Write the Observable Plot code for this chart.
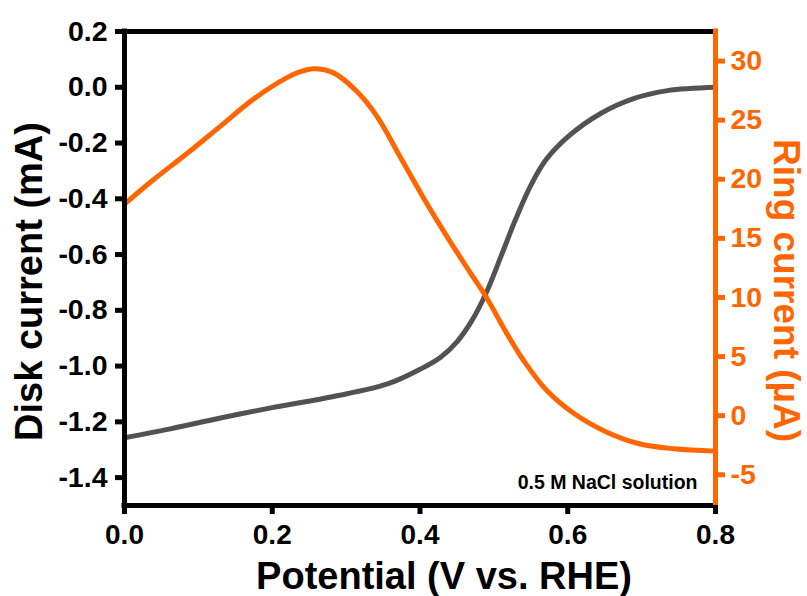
<!DOCTYPE html>
<html>
<head>
<meta charset="utf-8">
<script src="https://cdn.jsdelivr.net/npm/d3@7"></script>
<script src="https://cdn.jsdelivr.net/npm/@observablehq/plot@0.6"></script>
<style>
  body { margin: 0; background: #fff; }
  #chart svg { display: block; }
</style>
</head>
<body>
<div id="chart"></div>
<script>
// RRDE sweep in 0.5 M NaCl: disk current (mA) and ring current (µA) vs. potential (V vs. RHE)
const diskPotential = [0, 0.062, 0.13, 0.198, 0.283, 0.356, 0.401, 0.428, 0.45, 0.47, 0.49, 0.51, 0.53, 0.55, 0.57, 0.60, 0.644, 0.689, 0.735, 0.8];
const diskCurrent   = [-1.257, -1.225, -1.186, -1.150, -1.109, -1.064, -1.010, -0.968, -0.913, -0.838, -0.735, -0.604, -0.470, -0.352, -0.262, -0.178, -0.095, -0.041, -0.012, 0.0];

const ringPotential = [0, 0.04, 0.085, 0.13, 0.175, 0.22, 0.238, 0.256, 0.283, 0.315, 0.342, 0.374, 0.405, 0.437, 0.468, 0.49, 0.518, 0.541, 0.572, 0.608, 0.653, 0.698, 0.744, 0.8];
const ringCurrent   = [17.9, 20.0, 22.2, 24.5, 26.8, 28.6, 29.1, 29.35, 29.0, 27.4, 25.3, 21.8, 18.4, 15.1, 12.1, 10.0, 6.9, 4.6, 2.1, 0.2, -1.4, -2.4, -2.8, -3.0];

const potentialTicks = [0, 0.2, 0.4, 0.6, 0.8];
const diskTicks = [0.2, 0, -0.2, -0.4, -0.6, -0.8, -1.0, -1.2, -1.4];
const ringTicks = [30, 25, 20, 15, 10, 5, 0, -5];

const potentialDomain = [0, 0.8];
const diskDomain = [-1.5, 0.2];
const ringDomain = [-7.6, 32.5];

const ORANGE = "#ff6600";
const GREY = "#525252";
const BLACK = "#000000";

// the ring current shares the plot's y scale through a linear mapping onto disk units
const ringToDisk = d3.scaleLinear(ringDomain, diskDomain);

const diskRows = diskPotential.map((p, i) => ({potential: p, current: diskCurrent[i]}));
const ringRows = ringPotential.map((p, i) => ({potential: p, current: ringToDisk(ringCurrent[i])}));

const fontFamily = "'Liberation Sans', Arial, Helvetica, sans-serif";

const chart = Plot.plot({
  width: 807,
  height: 596,
  marginLeft: 124,
  marginRight: 92,
  marginTop: 31,
  marginBottom: 91,
  style: {fontFamily, fontWeight: "bold", background: "#fff", overflow: "visible"},
  x: {domain: potentialDomain, axis: null},
  y: {domain: diskDomain, axis: null},
  marks: [
    Plot.line(diskRows, {x: "potential", y: "current", stroke: GREY, strokeWidth: 5, curve: "catmull-rom"}),
    Plot.line(ringRows, {x: "potential", y: "current", stroke: ORANGE, strokeWidth: 5, curve: "catmull-rom"}),

    // frame
    Plot.ruleY([diskDomain[1]], {stroke: BLACK, strokeWidth: 5, strokeLinecap: "square"}),
    Plot.ruleY([diskDomain[0]], {stroke: BLACK, strokeWidth: 5, strokeLinecap: "square"}),
    Plot.ruleX([potentialDomain[0]], {stroke: BLACK, strokeWidth: 5, strokeLinecap: "square"}),
    Plot.ruleX([potentialDomain[1]], {stroke: ORANGE, strokeWidth: 5, strokeLinecap: "square"}),

    // axes
    Plot.axisX(potentialTicks, {
      anchor: "bottom", tickSize: 9, tickPadding: 10, strokeWidth: 5, color: BLACK,
      fontSize: 28, fontWeight: "bold", tickFormat: d => d.toFixed(1), label: null
    }),
    Plot.axisY(diskTicks, {
      anchor: "left", tickSize: 9, tickPadding: 8, strokeWidth: 5, color: BLACK,
      fontSize: 28.5, fontWeight: "bold", tickFormat: d => d.toFixed(1), label: null
    }),
    Plot.axisY(ringTicks.map(r => ringToDisk(r)), {
      anchor: "right", tickSize: 9, tickPadding: 6, strokeWidth: 5, color: ORANGE,
      fontSize: 28.5, fontWeight: "bold", tickFormat: d => String(Math.round(ringToDisk.invert(d))), label: null
    }),

    // axis titles
    Plot.text(["Disk current (mA)"], {
      frameAnchor: "left", textAnchor: "middle", lineAnchor: "middle", rotate: -90, dx: -95, dy: 13,
      fontSize: 38, fontWeight: "bold", fill: BLACK
    }),
    Plot.text(["Ring current (µA)"], {
      frameAnchor: "right", textAnchor: "middle", lineAnchor: "middle", rotate: 90, dx: 70, dy: 22,
      fontSize: 37, fontWeight: "bold", fill: ORANGE
    }),
    Plot.text(["Potential (V vs. RHE)"], {
      frameAnchor: "bottom", textAnchor: "middle", lineAnchor: "middle", dx: 24, dy: 71,
      fontSize: 38, fontWeight: "bold", fill: BLACK
    }),
    Plot.text(["0.5 M NaCl solution"], {
      frameAnchor: "bottom-right", textAnchor: "end", lineAnchor: "middle", dx: -18, dy: -23,
      fontSize: 19.5, fontWeight: "bold", fill: BLACK
    })
  ]
});

document.getElementById("chart").appendChild(chart);
</script>
</body>
</html>
